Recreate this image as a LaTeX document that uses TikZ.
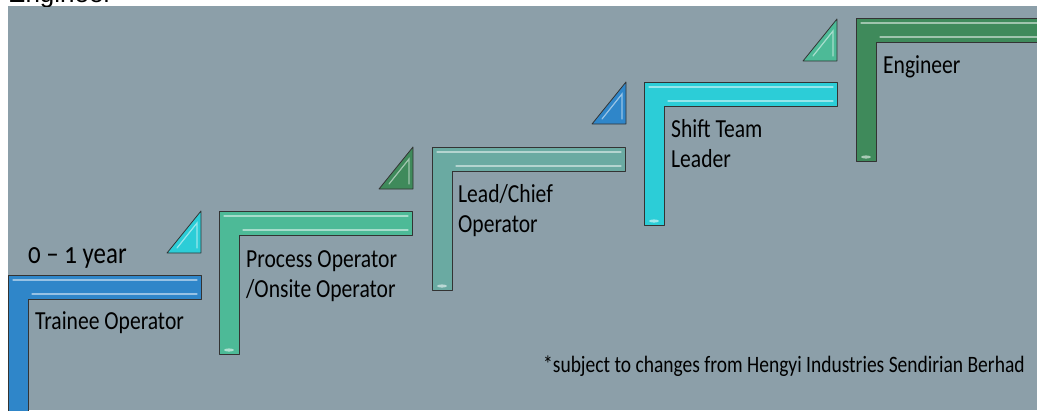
\documentclass[tikz,border=0pt]{standalone}
\usepackage{fontspec}
\setmainfont{Carlito}[Numbers=OldStyle]
\newfontfamily\arialfont{Liberation Sans}
\usepackage{xcolor}
\usetikzlibrary{positioning,calc}

\definecolor{bggray}{HTML}{8C9FA9}
\definecolor{stepblue}{HTML}{2F86C9}
\definecolor{stepmint}{HTML}{4DBA97}
\definecolor{stepsage}{HTML}{6AAAA2}
\definecolor{stepcyan}{HTML}{2CCDD7}
\definecolor{stepgreen}{HTML}{3F8A5B}

\begin{document}
\begin{tikzpicture}[x=1pt, y=-1pt, font=\fontsize{26}{30}\selectfont,
    rung/.style={draw=black!80, line width=0.8pt, line join=round},
    shine/.style={draw=white, draw opacity=0.5, line width=1.2pt, line cap=round},
    lbl/.style={anchor=base west, align=left, inner sep=0pt, xscale=0.83}]
  \useasboundingbox (0,0) rectangle (1037,410);
  \fill[bggray] (8,6) rectangle (1037,410);
  % caption cut off above the panel
  \begin{scope}
    \clip (0,0) rectangle (1037,6);
    \node[anchor=base west, inner sep=0pt, font=\fontsize{26}{30}\selectfont\arialfont] (topcut) at (8,2.5) {Engineer};
  \end{scope}
  % the five steps
  \foreach \i/\x/\y/\col in {1/8/275/stepblue, 2/219/211/stepmint, 3/432/147/stepsage, 4/644/82/stepcyan, 5/856/18/stepgreen}{
    \coordinate (step\i) at (\x,\y);
    \path[rung, fill=\col] (step\i) -- ++(193,0) -- ++(0,24) -- ++(-173,0) -- ++(0,119) -- ++(-20,0) -- cycle;
    \path[shine] ($(step\i)+(5,5)$) -- ++(184,0) ($(step\i)+(24,19)$) -- ++(165,0);
    \fill[white, opacity=0.55] ($(step\i)+(10,139)$) ellipse[x radius=5, y radius=1.6];
  }
  % small triangles between the steps
  \foreach \i/\x/\y/\col in {2/201/253/stepcyan, 3/413/189/stepgreen, 4/626/124/stepblue, 5/837/61/stepmint}{
    \path[rung, fill=\col] (\x,\y) coordinate (tri\i) -- ++(-34,0) -- ++(34,-42) -- cycle;
    \path[shine] ($(tri\i)+(-4,-5)$) -- ++(0,-25) -- ++(-20,25);
  }
  % labels
  \node[lbl] (year) at ($(step1)+(20,-12)$) {\fontsize{30}{30}\selectfont 0 -- 1 year};
  \node[lbl] (trainee) at ($(step1)+(27,54)$) {Trainee Operator};
  \node[lbl] (process) at ($(step2)+(27,86)$) {Process Operator\\/Onsite Operator};
  \node[lbl] (lead) at ($(step3)+(26,85)$) {Lead/Chief\\Operator};
  \node[lbl] (shift) at ($(step4)+(27,85)$) {Shift Team\\Leader};
  \node[lbl] (engineer) at ($(step5)+(27,55)$) {Engineer};
  \node[lbl, font=\fontsize{23.5}{25}\selectfont] (note) at (543,372) {*subject to changes from Hengyi Industries Sendirian Berhad};
\end{tikzpicture}
\end{document}
